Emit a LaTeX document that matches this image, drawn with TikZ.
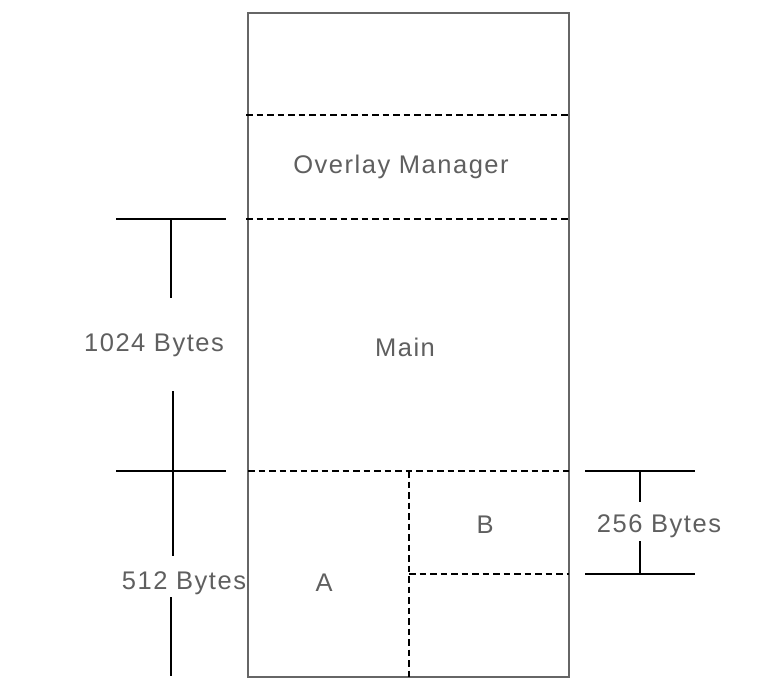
\documentclass[tikz,border=0pt]{standalone}
\usepackage{fontspec}
\setmainfont[LetterSpace=6]{Liberation Sans}
\usetikzlibrary{positioning}
\definecolor{boxLine}{HTML}{666666}
\definecolor{labelText}{HTML}{5F5F5F}

\begin{document}
\begin{tikzpicture}[
    x=1pt, y=-1pt,
    font=\fontsize{25.5}{30}\selectfont,
    label/.style={text=labelText, inner sep=0pt, anchor=base},
    frame/.style={draw=boxLine, line width=1.8pt},
    split/.style={draw=black, line width=1.6pt, dash pattern=on 6.5pt off 4pt},
    dim/.style={draw=black, line width=2pt},
  ]
  \useasboundingbox (0,0) rectangle (784,690);

  % Column edges and band borders
  \def\xL{248}\def\xM{409}\def\xR{569}
  \def\yTop{13}\def\yOvl{115}\def\yMain{219}\def\yOvr{471}\def\yB{574}\def\yBot{677}

  % MEMORY
  \draw[frame] (\xL,\yTop) rectangle (\xR,\yBot);
  \draw[split] (246,\yOvl) -- (\xR,\yOvl);
  \draw[split] (246,\yMain) -- (\xR,\yMain);
  \draw[split] (\xL,\yOvr) -- (\xR,\yOvr);
  \draw[split] (\xM,\yOvr) -- (\xM,\yBot);
  \draw[split] (\xM,\yB) -- (\xR,\yB);

  \node[label] (ovl)  at (401,173) {Overlay Manager};
  \node[label] (main) at (405,356) {Main};
  \node[label] (segA) at (324,591) {A};
  \node[label] (segB) at (485,533) {B};

  % SIZES (left)
  \draw[dim] (116,\yMain) -- (226,\yMain);
  \draw[dim] (171,\yMain) -- (171,298);
  \node[label] (kb) at (154,351) {1024 Bytes};
  \draw[dim] (173,391) -- (173,556);
  \draw[dim] (116,\yOvr) -- (226,\yOvr);
  \node[label] (half) at (184,589) {512 Bytes};
  \draw[dim] (171,597) -- (171,676);

  % SIZES (right)
  \draw[dim] (585,\yOvr) -- (695,\yOvr);
  \draw[dim] (640,\yOvr) -- (640,502);
  \node[label] (quart) at (659,532) {256 Bytes};
  \draw[dim] (640,541) -- (640,\yB);
  \draw[dim] (585,\yB) -- (695,\yB);

\end{tikzpicture}
\end{document}
